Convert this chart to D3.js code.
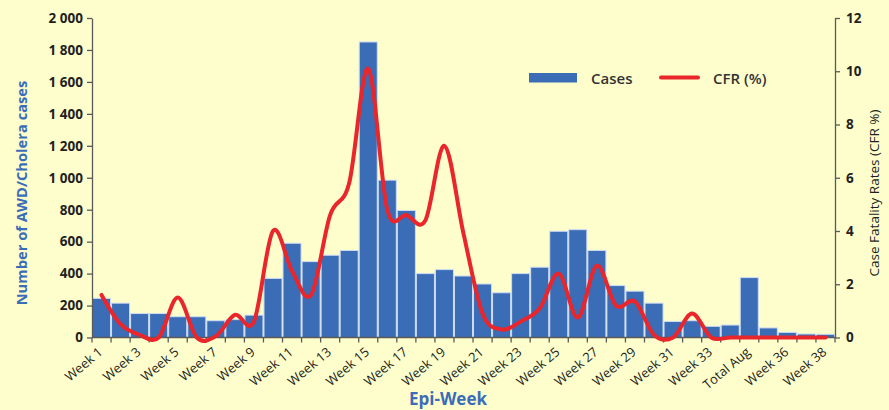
<!DOCTYPE html>
<html>
<head>
<meta charset="utf-8">
<script src="https://cdn.jsdelivr.net/npm/d3@7"></script>
<style>
  html, body { margin: 0; padding: 0; background: #fefecd; }
  svg { display: block; font-family: "Open Sans", sans-serif; }
</style>
</head>
<body>
<div id="chart"></div>
<script>
// categories on the x axis (Total Aug sits between week 34 and 35)
var categories = [
  "Week 1", "Week 2", "Week 3", "Week 4", "Week 5", "Week 6", "Week 7", "Week 8",
  "Week 9", "Week 10", "Week 11", "Week 12", "Week 13", "Week 14", "Week 15",
  "Week 16", "Week 17", "Week 18", "Week 19", "Week 20", "Week 21", "Week 22",
  "Week 23", "Week 24", "Week 25", "Week 26", "Week 27", "Week 28", "Week 29",
  "Week 30", "Week 31", "Week 32", "Week 33", "Week 34", "Total Aug", "Week 35",
  "Week 36", "Week 37", "Week 38"
];

// labels shown under the axis (every other category)
var shownLabels = [
  "Week 1", "Week 3", "Week 5", "Week 7", "Week 9", "Week 11", "Week 13",
  "Week 15", "Week 17", "Week 19", "Week 21", "Week 23", "Week 25", "Week 27",
  "Week 29", "Week 31", "Week 33", "Total Aug", "Week 36", "Week 38"
];

// AWD/Cholera cases per week
var cases = [
  245, 215, 150, 150, 130, 130, 105, 112, 140, 370,
  590, 475, 515, 545, 1850, 985, 795, 400, 425, 385,
  335, 280, 400, 440, 665, 675, 545, 325, 290, 215,
  100, 105, 70, 78, 375, 60, 32, 22, 20
];

// case fatality rate (%)
var cfr = [
  1.6, 0.5, 0.1, 0, 1.5, 0, 0.05, 0.85, 0.6, 4.0,
  2.5, 1.6, 4.6, 5.8, 10.1, 4.8, 4.6, 4.4, 7.2, 3.9,
  0.9, 0.3, 0.6, 1.1, 2.4, 0.75, 2.7, 1.2, 1.35, 0.1,
  0, 0.9, 0, 0, 0, 0, 0, 0, 0
];

var leftTicks = [0, 200, 400, 600, 800, 1000, 1200, 1400, 1600, 1800, 2000];
var rightTicks = [0, 2, 4, 6, 8, 10, 12];

function EpiChart(params) {
  var attrs = {
    container: '#chart',
    width: 889,
    height: 410,
    plot: { left: 92, right: 835, top: 18, bottom: 337.5 },
    barColor: '#3b6cb6',
    lineColor: '#e8262b',
    textColor: '#231f20',
    titleColor: '#3a6cb8',
    axisColor: '#5a5a5a'
  };
  attrs = Object.assign(attrs, params);

  function main() {
    var p = attrs.plot;
    var svg = d3.select(attrs.container).append('svg')
      .attr('width', attrs.width)
      .attr('height', attrs.height);

    svg.append('rect')
      .attr('width', attrs.width)
      .attr('height', attrs.height)
      .attr('fill', '#fefecd');

    var x = d3.scaleBand().domain(categories).range([p.left, p.right]).padding(0);
    var yL = d3.scaleLinear().domain([0, 2000]).range([p.bottom, p.top]);
    var yR = d3.scaleLinear().domain([0, 12]).range([p.bottom, p.top]);

    var spaced = d3.formatLocale({ decimal: '.', thousands: ' ', grouping: [3], currency: ['', ''] }).format(',');

    // bars
    svg.append('g').selectAll('rect')
      .data(cases)
      .join('rect')
      .attr('x', function (d, i) { return x(categories[i]) + 0.5; })
      .attr('width', x.bandwidth() - 1)
      .attr('y', function (d) { return yL(d); })
      .attr('height', function (d) { return yL(0) - yL(d); })
      .attr('fill', attrs.barColor)
      .attr('stroke', '#cfdcf2')
      .attr('stroke-width', 1);

    // left axis
    var gL = svg.append('g')
      .attr('transform', 'translate(' + p.left + ',0)')
      .call(d3.axisLeft(yL).tickValues(leftTicks).tickFormat(spaced)
        .tickSize(5).tickSizeOuter(0).tickPadding(4));
    styleAxis(gL);
    gL.selectAll('text').attr('font-size', 13.5).attr('font-weight', 700);

    // right axis
    var gR = svg.append('g')
      .attr('transform', 'translate(' + p.right + ',0)')
      .call(d3.axisRight(yR).tickValues(rightTicks).tickSize(5).tickSizeOuter(0).tickPadding(6));
    styleAxis(gR);
    gR.selectAll('text').attr('font-size', 13.5).attr('font-weight', 700);

    // x axis: ticks at band boundaries
    var gX = svg.append('g');
    gX.append('line')
      .attr('x1', p.left).attr('x2', p.right)
      .attr('y1', p.bottom).attr('y2', p.bottom)
      .attr('stroke', attrs.axisColor).attr('stroke-width', 1.3);
    var bounds = categories.map(function (c) { return x(c); }).concat([p.right]);
    gX.selectAll('line.tick')
      .data(bounds)
      .join('line')
      .attr('class', 'tick')
      .attr('x1', function (d) { return d; }).attr('x2', function (d) { return d; })
      .attr('y1', p.bottom).attr('y2', p.bottom + 5)
      .attr('stroke', attrs.axisColor).attr('stroke-width', 1.3);
    gX.selectAll('text')
      .data(shownLabels)
      .join('text')
      .attr('transform', function (d) {
        var cx = x(d) + x.bandwidth() / 2;
        return 'translate(' + (cx + 2) + ',' + (p.bottom + 16) + ') rotate(-40)';
      })
      .attr('text-anchor', 'end')
      .attr('font-size', 13)
      .attr('fill', attrs.textColor)
      .text(function (d) { return d; });

    // CFR line
    var line = d3.line()
      .x(function (d, i) { return x(categories[i]) + x.bandwidth() / 2; })
      .y(function (d) { return yR(d); })
      .curve(d3.curveCardinal.tension(0));
    svg.append('path')
      .datum(cfr)
      .attr('d', line)
      .attr('fill', 'none')
      .attr('stroke', attrs.lineColor)
      .attr('stroke-width', 4)
      .attr('stroke-linecap', 'round')
      .attr('stroke-linejoin', 'round');

    // axis titles
    svg.append('text')
      .attr('transform', 'translate(27,193) rotate(-90)')
      .attr('text-anchor', 'middle')
      .attr('font-size', 14.7)
      .attr('font-weight', 700)
      .attr('fill', attrs.titleColor)
      .text('Number of AWD/Cholera cases');

    svg.append('text')
      .attr('transform', 'translate(879,193) rotate(-90)')
      .attr('text-anchor', 'middle')
      .attr('font-size', 13.5)
      .attr('fill', attrs.textColor)
      .text('Case Fatality Rates (CFR %)');

    svg.append('text')
      .attr('x', 448)
      .attr('y', 405)
      .attr('text-anchor', 'middle')
      .attr('font-size', 17)
      .attr('font-weight', 700)
      .attr('fill', attrs.titleColor)
      .text('Epi-Week');

    // legend
    var lg = svg.append('g');
    lg.append('rect')
      .attr('x', 529).attr('y', 73)
      .attr('width', 48).attr('height', 9.5)
      .attr('fill', attrs.barColor);
    lg.append('text')
      .attr('x', 591).attr('y', 83.5)
      .attr('font-size', 15).attr('font-weight', 600)
      .attr('fill', '#333')
      .text('Cases');
    lg.append('line')
      .attr('x1', 661).attr('x2', 698)
      .attr('y1', 77.5).attr('y2', 77.5)
      .attr('stroke', attrs.lineColor)
      .attr('stroke-width', 4)
      .attr('stroke-linecap', 'round');
    lg.append('text')
      .attr('x', 713).attr('y', 83.5)
      .attr('font-size', 15).attr('font-weight', 600)
      .attr('fill', '#333')
      .text('CFR (%)');
  }

  function styleAxis(g) {
    g.select('.domain').attr('stroke', attrs.axisColor).attr('stroke-width', 1.3);
    g.selectAll('.tick line').attr('stroke', attrs.axisColor).attr('stroke-width', 1.3);
    g.selectAll('text').attr('fill', attrs.textColor).attr('font-family', '"Open Sans", sans-serif');
  }

  main.render = function () {
    main();
    return main;
  };

  return main;
}

EpiChart({}).render();
</script>
</body>
</html>
